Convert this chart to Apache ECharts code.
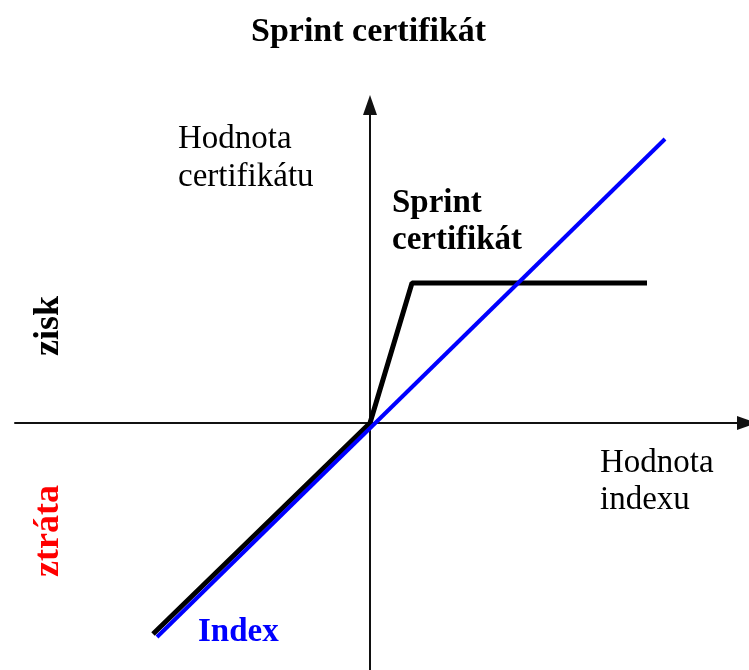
<!DOCTYPE html>
<html>
<head>
<meta charset="utf-8">
<script src="https://cdn.jsdelivr.net/npm/echarts@6/dist/echarts.min.js"></script>
<style>
  body { margin: 0; padding: 0; background: #fff; }
  #chart { width: 749px; height: 670px; }
</style>
</head>
<body>
<div id="chart"></div>
<script>
// payoff lines, units = index value / certificate value (arbitrary scale)
const sprintX = [-21.7, 0, 4.2, 27.7];
const sprintY = [-21.1, 0, 14.0, 14.0];
const indexX = [-21.3, 29.5];
const indexY = [-21.4, 28.4];

const serif = "'Liberation Serif', 'DejaVu Serif', serif";

function pairs(xs, ys) {
  return xs.map((x, i) => [x, ys[i]]);
}

const chart = echarts.init(document.getElementById("chart"));

const option = {
  backgroundColor: "#fff",
  animation: false,
  title: {
    text: "Sprint certifikát",
    left: 246,
    top: 10,
    textStyle: { fontFamily: serif, fontSize: 34, fontWeight: "bold", color: "#000" },
  },
  grid: { left: 15, right: 2, top: 105, bottom: 0 },
  xAxis: {
    type: "value",
    min: -35.5,
    max: 37.7,
    axisLine: {
      onZero: true,
      symbol: ["none", "triangle"],
      symbolSize: [14, 20],
      lineStyle: { color: "#111", width: 2 },
    },
    axisTick: { show: false },
    axisLabel: { show: false },
    splitLine: { show: false },
  },
  yAxis: {
    type: "value",
    min: -24.7,
    max: 31.8,
    axisLine: {
      onZero: true,
      symbol: ["none", "triangle"],
      symbolSize: [14, 20],
      lineStyle: { color: "#111", width: 2 },
    },
    axisTick: { show: false },
    axisLabel: { show: false },
    splitLine: { show: false },
  },
  series: [
    {
      name: "Sprint certifikát",
      type: "line",
      data: pairs(sprintX, sprintY),
      showSymbol: false,
      lineStyle: { color: "#000", width: 5 },
      z: 2,
    },
    {
      name: "Index",
      type: "line",
      data: pairs(indexX, indexY),
      showSymbol: false,
      lineStyle: { color: "#0000ff", width: 4 },
      z: 3,
    },
  ],
  graphic: [
    { type: "text", left: 178, top: 120, style: { text: "Hodnota\ncertifikátu", font: "33px " + serif, fill: "#000", lineHeight: 38 } },
    { type: "text", left: 392, top: 185, style: { text: "Sprint\ncertifikát", font: "bold 33px " + serif, fill: "#000", lineHeight: 37 } },
    { type: "text", left: 600, top: 445, style: { text: "Hodnota\nindexu", font: "33px " + serif, fill: "#000", lineHeight: 37 } },
    { type: "text", left: 198, top: 616, style: { text: "Index", font: "bold 33px " + serif, fill: "#0000ff" } },
    { type: "text", x: 49, y: 326, rotation: Math.PI / 2, style: { text: "zisk", font: "bold 36px " + serif, fill: "#000", align: "center", verticalAlign: "middle" } },
    { type: "text", x: 49, y: 531, rotation: Math.PI / 2, style: { text: "ztráta", font: "bold 36px " + serif, fill: "#ff0000", align: "center", verticalAlign: "middle" } },
  ],
};

chart.setOption(option);
</script>
</body>
</html>
